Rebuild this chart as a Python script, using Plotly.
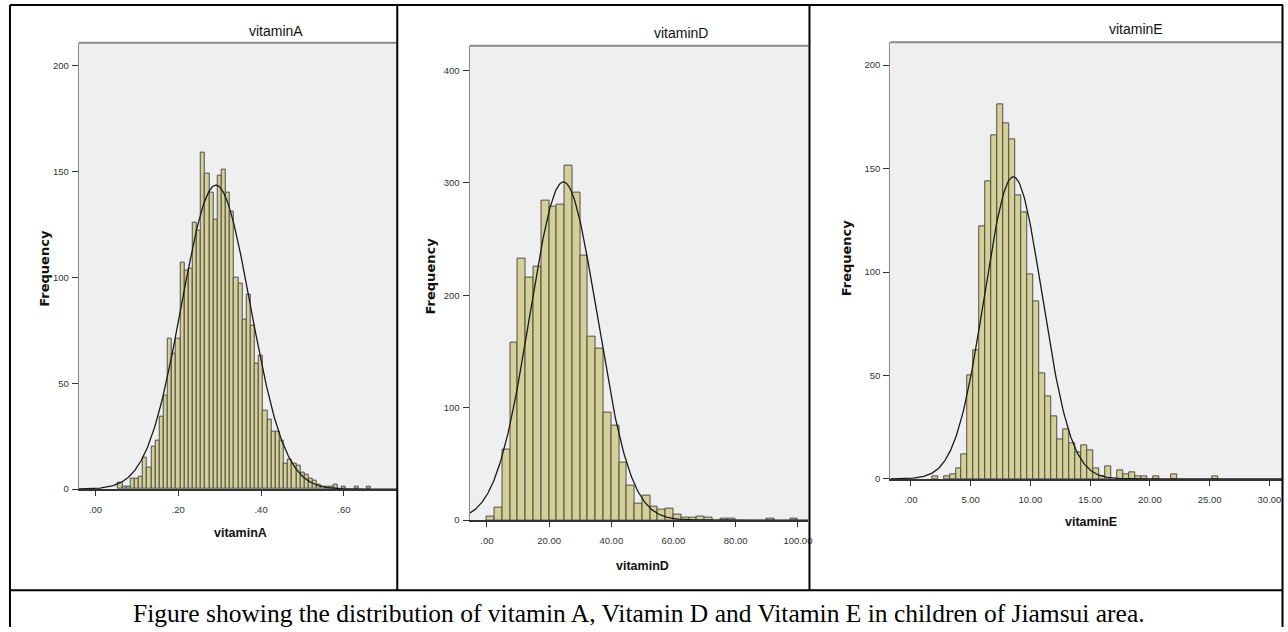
import numpy as np
import plotly.graph_objects as go

W, H = 1288, 632

# ---------------- data ----------------
a_centers = [0.06, 0.07, 0.08, 0.09, 0.10, 0.11, 0.12, 0.13, 0.14, 0.15, 0.16, 0.17, 0.18, 0.19,
             0.20, 0.21, 0.22, 0.23, 0.24, 0.25, 0.26, 0.27, 0.28, 0.29, 0.30, 0.31, 0.32, 0.33,
             0.34, 0.35, 0.36, 0.37, 0.38, 0.39, 0.40, 0.41, 0.42, 0.43, 0.44, 0.45, 0.46, 0.47,
             0.48, 0.49, 0.50, 0.51, 0.52, 0.53, 0.54, 0.55, 0.56, 0.57, 0.58, 0.60, 0.63, 0.66]
a_counts = [3, 1, 1, 5, 5, 6, 15, 10, 20, 23, 34, 44, 71, 64,
            71, 107, 103, 104, 126, 122, 159, 149, 140, 127, 148, 151, 140, 131,
            100, 97, 80, 92, 77, 59, 63, 37, 33, 27, 27, 23, 12, 14,
            12, 11, 8, 7, 5, 4, 2, 1, 1, 1, 2, 1, 1, 1]
a_binwidth = 0.01
a_norm = dict(mean=0.291, sd=0.083, peak=143.5)

d_centers = [1.25, 3.75, 6.25, 8.75, 11.25, 13.75, 16.25, 18.75, 21.25, 23.75, 26.25, 28.75,
             31.25, 33.75, 36.25, 38.75, 41.25, 43.75, 46.25, 48.75, 51.25, 53.75, 56.25, 58.75,
             61.25, 63.75, 66.25, 68.75, 71.25, 76.25, 78.75, 91.25, 98.75]
d_counts = [3, 11, 63, 158, 233, 216, 226, 284, 279, 281, 315, 291,
            235, 163, 153, 96, 84, 51, 31, 15, 22, 12, 9, 10,
            5, 2, 2, 3, 2, 1, 1, 1, 1]
d_binwidth = 2.5
d_norm = dict(mean=24.6, sd=10.8, peak=301)

e_centers = [2.0, 3.0, 3.5, 4.0, 4.5, 5.0, 5.5, 6.0, 6.5, 7.0, 7.5, 8.0, 8.5, 9.0, 9.5, 10.0,
             10.5, 11.0, 11.5, 12.0, 12.5, 13.0, 13.5, 14.0, 14.5, 15.0, 15.5, 16.0, 16.5,
             17.5, 18.0, 18.5, 19.0, 19.5, 20.5, 22.0, 25.5]
e_counts = [1, 1, 2, 5, 12, 50, 62, 122, 144, 166, 181, 172, 164, 137, 129, 99,
            86, 51, 40, 30, 19, 24, 17, 13, 16, 14, 5, 1, 6,
            4, 2, 3, 1, 1, 1, 2, 1]
e_binwidth = 0.5
e_norm = dict(mean=8.57, sd=2.42, peak=146)

a_xticks = [0.0, 0.2, 0.4, 0.6]
a_xlabels = [".00", ".20", ".40", ".60"]
a_yticks = [0, 50, 100, 150, 200]
d_xticks = [0, 20, 40, 60, 80, 100]
d_xlabels = [".00", "20.00", "40.00", "60.00", "80.00", "100.00"]
d_yticks = [0, 100, 200, 300, 400]
e_xticks = [0, 5, 10, 15, 20, 25, 30]
e_xlabels = [".00", "5.00", "10.00", "15.00", "20.00", "25.00", "30.00"]
e_yticks = [0, 50, 100, 150, 200]

titles = ["vitaminA", "vitaminD", "vitaminE"]
caption = "Figure showing the distribution of vitamin A, Vitamin D and Vitamin E in children of Jiamsui area."

# ---------------- layout geometry (pixels) ----------------
panels = [
    dict(centers=a_centers, counts=a_counts, bw=a_binwidth, norm=a_norm,
         xt=a_xticks, xl=a_xlabels, yt=a_yticks,
         px=(79, 398), py=(43, 493), xr=(-0.0402, 0.7276), ytop=210.8,
         title_xy=(277, 31), xtitle_xy=(241, 537), ytitle_xy=(45, 270)),
    dict(centers=d_centers, counts=d_counts, bw=d_binwidth, norm=d_norm,
         xt=d_xticks, xl=d_xlabels, yt=d_yticks,
         px=(471, 811), py=(46, 524.3), xr=(-5.58, 103.4), ytop=422.2,
         title_xy=(683, 33), xtitle_xy=(645, 571), ytitle_xy=(432, 278)),
    dict(centers=e_centers, counts=e_counts, bw=e_binwidth, norm=e_norm,
         xt=e_xticks, xl=e_xlabels, yt=e_yticks,
         px=(893, 1286), py=(42.7, 482.7), xr=(-1.73, 31.05), ytop=211.0,
         title_xy=(1140, 29), xtitle_xy=(1094, 526), ytitle_xy=(850, 260)),
]

def fx(p):
    return p / W

def fy(p):
    return 1 - p / H

TICK_FONT = dict(family="Liberation Sans Narrow, Arial Narrow, Liberation Sans, sans-serif",
                 size=9.5, color="#333333")
BAR_FILL = "#D5D096"
BAR_LINE = "#4d4d4d"

fig = go.Figure()
layout = dict(width=W, height=H, margin=dict(l=0, r=0, t=0, b=0),
              paper_bgcolor="white", plot_bgcolor="#EFEFEF", showlegend=False,
              bargap=0, barmode="overlay")
shapes = []
annotations = []

for i, p in enumerate(panels):
    n = "" if i == 0 else str(i + 1)
    xa, ya = "x" + n, "y" + n
    fig.add_trace(go.Bar(x=p["centers"], y=p["counts"], width=p["bw"],
                         marker=dict(color=BAR_FILL, line=dict(color=BAR_LINE, width=1)),
                         xaxis=xa, yaxis=ya, hoverinfo="x+y"))
    xs = np.linspace(p["xr"][0], p["xr"][1], 400)
    nm = p["norm"]
    ys = nm["peak"] * np.exp(-0.5 * ((xs - nm["mean"]) / nm["sd"]) ** 2)
    fig.add_trace(go.Scatter(x=xs, y=ys, mode="lines", line=dict(color="#1a1a1a", width=1.3),
                             xaxis=xa, yaxis=ya, hoverinfo="skip"))
    layout["xaxis" + n] = dict(domain=[fx(p["px"][0]), fx(p["px"][1])], range=list(p["xr"]),
                               anchor=ya, tickvals=p["xt"], ticktext=p["xl"],
                               ticks="outside", ticklen=5, tickcolor="#333333", tickwidth=1,
                               showline=True, linecolor="#333333", linewidth=1.5,
                               showgrid=False, zeroline=False, tickfont=TICK_FONT,
                               ticklabelstandoff=6, fixedrange=True)
    layout["yaxis" + n] = dict(domain=[fy(p["py"][1]), fy(p["py"][0])], range=[0, p["ytop"]],
                               anchor=xa, tickvals=p["yt"],
                               ticks="outside", ticklen=6, tickcolor="#333333", tickwidth=1,
                               showline=True, linecolor="#888888", linewidth=1,
                               showgrid=False, zeroline=False, tickfont=TICK_FONT,
                               ticklabelstandoff=1, fixedrange=True)
    # top band of plot area
    shapes.append(dict(type="line", xref="paper", yref="paper",
                       x0=fx(p["px"][0]), x1=fx(p["px"][1]), y0=fy(p["py"][0]), y1=fy(p["py"][0]),
                       line=dict(color="#8a8a8a", width=2)))
    annotations.append(dict(text=titles[i], x=fx(p["title_xy"][0]), y=fy(p["title_xy"][1]),
                            xref="paper", yref="paper", showarrow=False,
                            xanchor="center", yanchor="middle",
                            font=dict(family="Liberation Sans Narrow, Arial Narrow, Liberation Sans, sans-serif",
                                      size=14, color="#111111")))
    annotations.append(dict(text="<b>" + titles[i] + "</b>", x=fx(p["xtitle_xy"][0]), y=fy(p["xtitle_xy"][1]),
                            xref="paper", yref="paper", showarrow=False,
                            xanchor="center", yanchor="middle",
                            font=dict(family="Liberation Sans, Arial, sans-serif", size=12.5, color="#111111")))
    annotations.append(dict(text="<b>Frequency</b>", x=fx(p["ytitle_xy"][0]), y=fy(p["ytitle_xy"][1]),
                            xref="paper", yref="paper", showarrow=False, textangle=-90,
                            xanchor="center", yanchor="middle",
                            font=dict(family="DejaVu Sans, sans-serif", size=13, color="#111111")))

annotations.append(dict(text=caption, x=fx(641), y=fy(618), xref="paper", yref="paper",
                        showarrow=False, xanchor="center", yanchor="middle",
                        font=dict(family="Liberation Serif, Times New Roman, serif", size=25.5, color="#000000")))

# table border lines
def hline(y, x0, x1, w=2):
    shapes.append(dict(type="line", xref="paper", yref="paper", x0=fx(x0), x1=fx(x1),
                       y0=fy(y), y1=fy(y), line=dict(color="black", width=w)))

def vline(x, y0, y1, w=2):
    shapes.append(dict(type="line", xref="paper", yref="paper", x0=fx(x), x1=fx(x),
                       y0=fy(y0), y1=fy(y1), line=dict(color="black", width=w)))

hline(5, 10, 1287)
hline(595, 10, 1287)
vline(10, 5, 632)
vline(1286.5, 5, 632)
vline(398.5, 5, 595)
vline(812, 5, 595)

layout["shapes"] = shapes
layout["annotations"] = annotations
fig.update_layout(**layout)
fig.write_html("out.html",
               config={"displayModeBar": False},
               post_script="document.body.style.margin='0';document.body.style.padding='0';"
                           "document.body.style.overflow='hidden';")
